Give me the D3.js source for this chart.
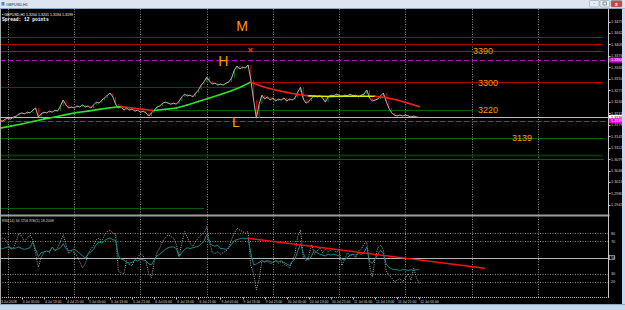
<!DOCTYPE html>
<html>
<head>
<meta charset="utf-8">
<script src="https://cdn.jsdelivr.net/npm/d3@7"></script>
<style>
html, body { margin: 0; padding: 0; background: #000; overflow: hidden; }
svg { display: block; font-family: "Liberation Sans", Arial, sans-serif; }
</style>
</head>
<body>
<svg id="chart" width="625" height="310"></svg>
<script>
// GBPUSD H1, 3 Jul 21:00 .. 12 Jul 05:00 (bar 0 = 4 Jul 00:00)
var firstBar = -3;
var closes = [
  1.3191, 1.3188, 1.3194, 1.3197, 1.3194,
  1.3200, 1.3203, 1.3209, 1.3212, 1.3209, 1.3214, 1.3212,
  1.3220, 1.3226, 1.3200, 1.3209, 1.3214, 1.3212, 1.3217, 1.3214, 1.3220, 1.3217,
  1.3232, 1.3249, 1.3235, 1.3226, 1.3229, 1.3226, 1.3232, 1.3229, 1.3235, 1.3229,
  1.3232, 1.3226, 1.3235, 1.3243, 1.3240, 1.3249, 1.3255, 1.3263, 1.3269, 1.3258,
  1.3237, 1.3226, 1.3229, 1.3220, 1.3226, 1.3220, 1.3223, 1.3217, 1.3220, 1.3214,
  1.3217, 1.3212, 1.3203, 1.3212, 1.3220, 1.3229, 1.3232, 1.3240, 1.3243, 1.3240,
  1.3237, 1.3240, 1.3237, 1.3246, 1.3258, 1.3266, 1.3261, 1.3263, 1.3258, 1.3269,
  1.3278, 1.3292, 1.3301, 1.3315, 1.3304, 1.3295, 1.3298, 1.3292, 1.3295, 1.3292,
  1.3298, 1.3301, 1.3312, 1.3335, 1.3347, 1.3338, 1.3344, 1.3341, 1.3350, 1.3307,
  1.3249, 1.3197, 1.3237, 1.3263, 1.3252, 1.3258, 1.3249, 1.3255, 1.3246, 1.3252,
  1.3249, 1.3255, 1.3246, 1.3252, 1.3249, 1.3255, 1.3272, 1.3286, 1.3252, 1.3240,
  1.3246, 1.3255, 1.3261, 1.3258, 1.3261, 1.3255, 1.3243, 1.3258, 1.3263, 1.3261,
  1.3266, 1.3263, 1.3258, 1.3263, 1.3261, 1.3266, 1.3261, 1.3263, 1.3258, 1.3263,
  1.3266, 1.3278, 1.3255, 1.3246, 1.3249, 1.3252, 1.3261, 1.3269, 1.3246, 1.3226,
  1.3212, 1.3206, 1.3203, 1.3206, 1.3203, 1.3206, 1.3203, 1.3200, 1.3203, 1.3200, 1.3199
];

// moving average, read at every 4th bar
var maBars = [-3, 1, 5, 9, 13, 17, 21, 25, 29, 33, 37, 41, 45, 49, 53, 57, 61, 65, 69, 73,
  77, 81, 85, 88, 89, 93, 97, 101, 105, 109, 113, 117, 121, 125, 129, 133, 137, 141, 145, 149];
var maValues = [1.3168, 1.3174, 1.3180, 1.3187, 1.3194, 1.3200, 1.3207, 1.3213, 1.3217, 1.3222,
  1.3227, 1.3230, 1.3226, 1.3222, 1.3219, 1.3222, 1.3226, 1.3235, 1.3245, 1.3255,
  1.3265, 1.3276, 1.3289, 1.3301, 1.3297, 1.3286, 1.3278, 1.3271, 1.3265, 1.3261,
  1.3260, 1.3259, 1.3260, 1.3260, 1.3260, 1.3260, 1.3256, 1.3249, 1.3240, 1.3230];

var rsi14 = [
  62, 61, 62, 63, 62,
  61, 62, 63, 61, 60, 61, 62,
  69, 60, 51, 56, 57, 58, 57, 63, 59, 60,
  62, 67, 61, 58, 59, 60, 58, 55, 52, 49,
  54, 57, 60, 66, 69, 68, 71, 73, 74, 72,
  71, 52, 48, 47, 44, 43, 44, 47, 46, 48,
  47, 46, 42, 41, 47, 52, 54, 57, 60, 62,
  63, 63, 61, 51, 56, 60, 62, 61, 62, 63,
  64, 67, 70, 78, 68, 65, 64, 65, 61, 61,
  60, 62, 66, 71, 72, 73, 74, 73, 74, 55,
  41, 42, 44, 46, 45, 46, 45, 44, 46, 45,
  46, 44, 42, 40, 45, 48, 58, 67, 55, 48,
  47, 52, 59, 56, 54, 53, 52, 54, 53, 54,
  53, 52, 48, 47, 50, 53, 54, 53, 55, 54,
  56, 63, 45, 43, 48, 54, 59, 55, 42, 38,
  36, 35, 35, 34, 35, 35, 34, 35, 34, 35, 35
];
var rsi5 = [
  72, 74, 73, 66, 60,
  62, 70, 80, 76, 70, 74, 78,
  72, 55, 38, 50, 56, 58, 56, 63, 58, 62,
  70, 78, 66, 55, 58, 56, 52, 45, 37, 42,
  55, 60, 65, 72, 74, 70, 78, 82, 84, 80,
  79, 33, 31, 30, 46, 41, 40, 48, 50, 55,
  52, 45, 30, 25, 45, 56, 62, 70, 74, 78,
  76, 74, 66, 52, 68, 82, 75, 67, 64, 70,
  74, 78, 80, 88, 70, 56, 55, 57, 54, 56,
  58, 62, 72, 80, 86, 84, 82, 80, 82, 40,
  30, 10, 23, 46, 44, 46, 42, 44, 46, 43,
  45, 42, 40, 37, 45, 55, 76, 84, 50, 46,
  52, 66, 54, 58, 62, 56, 60, 57, 59, 61,
  56, 60, 40, 48, 56, 52, 54, 50, 58, 60,
  67, 69, 40, 26, 48, 62, 65, 60, 34, 28,
  25, 20, 22, 24, 20, 25, 30, 22, 37, 25, 18
];

// horizontal levels drawn on the chart (price, first bar, last bar)
var levelPrice = [1.3430, 1.3410, 1.3390, 1.3287, 1.3300, 1.3220, 1.3139, 1.3092, 1.3078, 1.2937];
var levelFrom  = [-3, -3, -3, -3, 88, 58, -3, -3, -3, -3];
var levelTo    = [215.5, 215.5, 215.5, 86, 215.5, 168.5, 216, 215.5, 216, 71];
var dashLevels = [1.3364, 1.3189];

var levelLabels = ["3390", "3300", "3220", "3139"];
var levelLabelPrice = [1.3390, 1.3300, 1.3220, 1.3139];
var levelLabelBar = [168.5, 170.3, 170.3, 182.6];

var waveText = ["M", "H", "L"];
var waveBar = [84.8, 78, 82.6];
var wavePrice = [1.3462, 1.3361, 1.3187];
var crossBar = 87.9, crossPrice = 1.3393;

// trend line on RSI: [bar, value]
var rsiTrend = [[87, 73.7], [172.8, 36.7]];

var priceTicks = [1.3475, 1.3442, 1.3409, 1.3376, 1.3343, 1.3310, 1.3277, 1.3244, 1.3211,
  1.3178, 1.3145, 1.3112, 1.3079, 1.3046, 1.3013, 1.2980, 1.2947];
var rsiLevels = [80, 70, 50, 30, 20];

var timeLabels = ["3 Jul 2018", "4 Jul 05:00", "4 Jul 13:00", "4 Jul 21:00", "5 Jul 05:00",
  "5 Jul 13:00", "5 Jul 21:00", "6 Jul 05:00", "6 Jul 13:00", "6 Jul 21:00", "9 Jul 05:00",
  "9 Jul 13:00", "9 Jul 21:00", "10 Jul 05:00", "10 Jul 13:00", "10 Jul 21:00", "11 Jul 05:00",
  "11 Jul 13:00", "11 Jul 21:00", "12 Jul 05:00"];
var timeLabelBars = [-3, 5, 13, 21, 29, 37, 45, 53, 61, 69, 77, 85, 93, 101, 109, 117, 125, 133, 141, 149];
var dayBars = [0, 24, 48, 72, 96, 120, 144, 168, 192];

// ---------------------------------------------------------------
var svg = d3.select("#chart");
var axisX = 608.5;

var x = d3.scaleLinear().domain([0, 144]).range([8, 405.4]);
var yP = d3.scaleLinear().domain([1.2921, 1.3511]).range([214, 9]);
var yR = d3.scaleLinear().domain([0, 100]).range([298, 217]);

var bars = closes.map(function (c, k) {
    return { i: firstBar + k, c: c, r14: rsi14[k], r5: rsi5[k] };
});
var ma = maBars.map(function (b, k) { return { i: b, v: maValues[k] }; });

svg.append("rect").attr("width", 625).attr("height", 310).attr("fill", "#000");

var defs = svg.append("defs");
defs.append("clipPath").attr("id", "clipMain")
    .append("rect").attr("x", 0).attr("y", 9).attr("width", axisX).attr("height", 205);
defs.append("clipPath").attr("id", "clipRsi")
    .append("rect").attr("x", 0).attr("y", 217).attr("width", axisX).attr("height", 80);

// vertical grid (midnight of each day)
svg.append("g").selectAll("line")
    .data(dayBars)
    .enter().append("line")
    .attr("x1", function (d) { return Math.round(x(d)) + 0.5; })
    .attr("x2", function (d) { return Math.round(x(d)) + 0.5; })
    .attr("y1", 9).attr("y2", 297)
    .attr("stroke", "#8e8e8e")
    .attr("stroke-dasharray", "1,1.5");

// ---- main pane
var main = svg.append("g").attr("clip-path", "url(#clipMain)");

var levelColor = ["#a80000", "#b00000", "#c80000", "#960000", "#b00000", "#0b5a0b", "#0f6a0f", "#063806", "#0b5a0b", "#0b5a0b"];
var levelWidth = [1, 1, 1, 1, 1, 1, 1, 2, 1, 1];
main.append("g").selectAll("line")
    .data(levelPrice)
    .enter().append("line")
    .attr("x1", function (d, k) { return x(levelFrom[k]); })
    .attr("x2", function (d, k) { return x(levelTo[k]); })
    .attr("y1", function (d) { return Math.round(yP(d)) + 0.5; })
    .attr("y2", function (d) { return Math.round(yP(d)) + 0.5; })
    .attr("stroke", function (d, k) { return levelColor[k]; })
    .attr("stroke-width", function (d, k) { return levelWidth[k]; });

main.append("g").selectAll("line")
    .data(dashLevels)
    .enter().append("line")
    .attr("x1", 0).attr("x2", axisX)
    .attr("y1", function (d) { return Math.round(yP(d)) + 0.5; })
    .attr("y2", function (d) { return Math.round(yP(d)) + 0.5; })
    .attr("stroke", "#c000c0")
    .attr("stroke-dasharray", "5,3");

var lastClose = closes[closes.length - 1];
main.append("line")
    .attr("x1", 0).attr("x2", axisX)
    .attr("y1", Math.round(yP(lastClose)) + 0.5)
    .attr("y2", Math.round(yP(lastClose)) + 0.5)
    .attr("stroke", "#bdbdbd");

// small bars from previous close to close
main.append("g").selectAll("line")
    .data(bars.slice(1))
    .enter().append("line")
    .attr("x1", function (d) { return x(d.i); })
    .attr("x2", function (d) { return x(d.i); })
    .attr("y1", function (d, k) { return yP(bars[k].c); })
    .attr("y2", function (d) { return yP(d.c); })
    .attr("stroke", function (d, k) { return d.c < bars[k].c ? "#d00000" : "#0a7a0a"; })
    .attr("stroke-width", 1);

main.append("path")
    .datum(bars)
    .attr("fill", "none")
    .attr("stroke", "#b4b4b4")
    .attr("stroke-width", 1)
    .attr("d", d3.line().x(function (d) { return x(d.i); }).y(function (d) { return yP(d.c); }));

// moving average coloured by slope
main.append("g").selectAll("line")
    .data(ma.slice(1))
    .enter().append("line")
    .attr("x1", function (d, k) { return x(ma[k].i); })
    .attr("y1", function (d, k) { return yP(ma[k].v); })
    .attr("x2", function (d) { return x(d.i); })
    .attr("y2", function (d) { return yP(d.v); })
    .attr("stroke", function (d, k) {
        var s = d.v - ma[k].v;
        if (s > 0.00015) return "#27e627";
        if (s < -0.00015) return "#ff1a1a";
        return "#d8f000";
    })
    .attr("stroke-width", 1.6)
    .attr("stroke-linecap", "round");

// annotations
main.append("g").selectAll("text")
    .data(levelLabels)
    .enter().append("text")
    .attr("x", function (d, k) { return x(levelLabelBar[k]); })
    .attr("y", function (d, k) { return yP(levelLabelPrice[k]) + 3.2; })
    .attr("fill", "#ff9a00")
    .attr("font-size", 9)
    .text(function (d) { return d; });

main.append("g").selectAll("text")
    .data(waveText)
    .enter().append("text")
    .attr("x", function (d, k) { return x(waveBar[k]); })
    .attr("y", function (d, k) { return yP(wavePrice[k]) + 5; })
    .attr("text-anchor", "middle")
    .attr("fill", "#ff9a00")
    .attr("font-size", 14)
    .text(function (d) { return d; });

var cx = x(crossBar), cy = yP(crossPrice);
main.append("path")
    .attr("d", "M" + (cx - 2) + "," + (cy - 2) + "L" + (cx + 2) + "," + (cy + 2) +
               "M" + (cx + 2) + "," + (cy - 2) + "L" + (cx - 2) + "," + (cy + 2))
    .attr("stroke", "#ff2020").attr("stroke-width", 1.4);

// header text
svg.append("text").attr("x", 2).attr("y", 15.5)
    .attr("fill", "#fff").attr("font-size", 3.6)
    .text("\u2022 GBPUSD,H1  1.3200 1.3201 1.3194 1.3199");
svg.append("text").attr("x", 2).attr("y", 21)
    .attr("fill", "#fff").attr("font-size", 4.6)
    .attr("font-family", "Liberation Mono, monospace").attr("font-weight", "bold")
    .text("Spread: 12 points");

// ---- RSI pane
svg.append("rect").attr("x", 0).attr("y", 214.5).attr("width", axisX + 1).attr("height", 2)
    .attr("fill", "#9c9c9c");

var rsi = svg.append("g").attr("clip-path", "url(#clipRsi)");
rsi.append("g").selectAll("line")
    .data(rsiLevels)
    .enter().append("line")
    .attr("x1", 0).attr("x2", axisX)
    .attr("y1", function (d) { return Math.round(yR(d)) + 0.5; })
    .attr("y2", function (d) { return Math.round(yR(d)) + 0.5; })
    .attr("stroke", function (d) { return d === 50 ? "#b4b4b4" : "#8a8a8a"; })
    .attr("stroke-dasharray", function (d) { return d === 50 ? null : "1,1.5"; });

rsi.append("path")
    .datum(bars)
    .attr("fill", "none")
    .attr("stroke", "#bdbdbd")
    .attr("stroke-width", 0.9)
    .attr("stroke-dasharray", "1,1.3")
    .attr("d", d3.line().x(function (d) { return x(d.i); }).y(function (d) { return yR(d.r5); }));

rsi.append("path")
    .datum(bars)
    .attr("fill", "none")
    .attr("stroke", "#178a8a")
    .attr("stroke-width", 1)
    .attr("d", d3.line().x(function (d) { return x(d.i); }).y(function (d) { return yR(d.r14); }));

rsi.append("line")
    .attr("x1", x(rsiTrend[0][0])).attr("y1", yR(rsiTrend[0][1]))
    .attr("x2", x(rsiTrend[1][0])).attr("y2", yR(rsiTrend[1][1]))
    .attr("stroke", "#ff1010").attr("stroke-width", 1.4);

svg.append("text").attr("x", 2).attr("y", 221.5)
    .attr("fill", "#d8d8d8").attr("font-size", 3.6)
    .text("RSI(14) 34.7256  RSI(5) 18.2008");

// ---- price axis
svg.append("line").attr("x1", axisX).attr("x2", axisX).attr("y1", 9).attr("y2", 298)
    .attr("stroke", "#c8c8c8");

var pAxis = svg.append("g");
pAxis.selectAll("line")
    .data(priceTicks)
    .enter().append("line")
    .attr("x1", axisX).attr("x2", axisX + 2)
    .attr("y1", function (d) { return Math.round(yP(d)) + 0.5; })
    .attr("y2", function (d) { return Math.round(yP(d)) + 0.5; })
    .attr("stroke", "#c8c8c8");
pAxis.selectAll("text")
    .data(priceTicks)
    .enter().append("text")
    .attr("x", axisX + 2.5)
    .attr("y", function (d) { return yP(d) + 1.4; })
    .attr("fill", "#d0d0d0")
    .attr("font-size", 3.8)
    .text(function (d) { return d3.format(".4f")(d); });

function priceBox(p, bg, fg) {
    var yy = yP(p);
    svg.append("rect").attr("x", axisX + 0.5).attr("y", yy - 2.5).attr("width", 13).attr("height", 5)
        .attr("fill", bg);
    svg.append("text").attr("x", axisX + 2.5).attr("y", yy + 1.4)
        .attr("fill", fg).attr("font-size", 3.8)
        .text(d3.format(".4f")(p));
}
priceBox(dashLevels[0], "#e000e0", "#ffffff");
priceBox(lastClose, "#ffffff", "#000000");
priceBox(dashLevels[1], "#e000e0", "#ffffff");

var rAxis = svg.append("g");
rAxis.selectAll("text")
    .data(rsiLevels)
    .enter().append("text")
    .attr("x", axisX + 2.5)
    .attr("y", function (d) { return yR(d) + 1.4; })
    .attr("fill", "#d0d0d0")
    .attr("font-size", 3.8)
    .text(function (d) { return d; });
svg.append("rect").attr("x", axisX + 1).attr("y", yR(50) - 2.2).attr("width", 5).attr("height", 4.4)
    .attr("fill", "none").attr("stroke", "#d0d0d0").attr("stroke-width", 0.6);

// ---- time axis
svg.append("line").attr("x1", 0).attr("x2", axisX).attr("y1", 297.5).attr("y2", 297.5)
    .attr("stroke", "#b8b8b8").attr("stroke-dasharray", "1,1");
var tAxis = svg.append("g");
tAxis.selectAll("line")
    .data(timeLabelBars.slice(1))
    .enter().append("line")
    .attr("x1", function (d) { return Math.round(x(d)) + 0.5; })
    .attr("x2", function (d) { return Math.round(x(d)) + 0.5; })
    .attr("y1", 297.5).attr("y2", 299.5)
    .attr("stroke", "#b8b8b8");
tAxis.selectAll("text")
    .data(timeLabels)
    .enter().append("text")
    .attr("x", function (d, k) { return Math.max(1, x(timeLabelBars[k]) + 1); })
    .attr("y", 302.8)
    .attr("fill", "#dcdcdc")
    .attr("font-size", 3.4)
    .text(function (d) { return d; });

// ---- window frame
svg.append("line").attr("x1", 0.5).attr("x2", 0.5).attr("y1", 8).attr("y2", 304)
    .attr("stroke", "#a8a8a8");
svg.append("rect").attr("x", 0).attr("y", 0).attr("width", 625).attr("height", 8.5).attr("fill", "#dde6f0");
svg.append("line").attr("x1", 0).attr("x2", 625).attr("y1", 8.5).attr("y2", 8.5).attr("stroke", "#8fa6c0");
svg.append("rect").attr("x", 1.5).attr("y", 2).attr("width", 3).attr("height", 3.5).attr("fill", "#4a86c8");
svg.append("text").attr("x", 6).attr("y", 5.8).attr("fill", "#1e2a3a").attr("font-size", 3.8)
    .text("GBPUSD,H1");
var buttons = [[589.5, "#e9eef5"], [600, "#e9eef5"], [611, "#c9463d"]];
svg.append("g").selectAll("rect")
    .data(buttons)
    .enter().append("rect")
    .attr("x", function (d) { return d[0]; }).attr("y", 0.5)
    .attr("width", function (d, k) { return k === 2 ? 11 : 9.5; }).attr("height", 6.5)
    .attr("rx", 1)
    .attr("fill", function (d) { return d[1]; })
    .attr("stroke", "#7f8fa3").attr("stroke-width", 0.5);
svg.append("text").attr("x", 616.5).attr("y", 5.6).attr("text-anchor", "middle")
    .attr("fill", "#fff").attr("font-size", 5).attr("font-weight", "bold").text("x");
svg.append("text").attr("x", 594.2).attr("y", 5).attr("text-anchor", "middle")
    .attr("fill", "#333").attr("font-size", 5).text("-");
svg.append("rect").attr("x", 603).attr("y", 2).attr("width", 3.5).attr("height", 3)
    .attr("fill", "none").attr("stroke", "#333").attr("stroke-width", 0.5);

svg.append("rect").attr("x", 622).attr("y", 8.5).attr("width", 3).attr("height", 302).attr("fill", "#c6d8ee");
svg.append("rect").attr("x", 0).attr("y", 304.5).attr("width", 625).attr("height", 5.5).attr("fill", "#c6d8ee");
svg.append("line").attr("x1", 0).attr("x2", 625).attr("y1", 304.5).attr("y2", 304.5).attr("stroke", "#8fa6c0");
</script>
</body>
</html>
